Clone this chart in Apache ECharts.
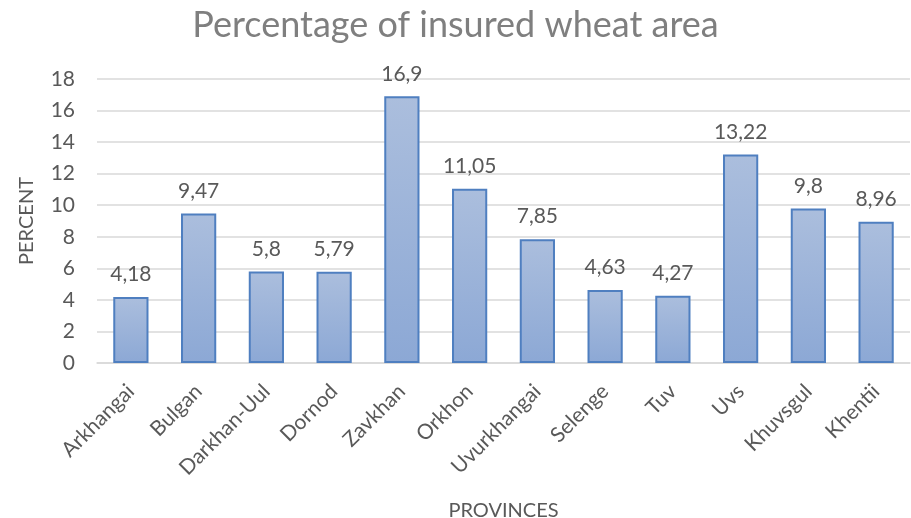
<!DOCTYPE html>
<html>
<head>
<meta charset="utf-8">
<script src="https://cdn.jsdelivr.net/npm/echarts@6/dist/echarts.min.js"></script>
<style>
  html, body { margin: 0; padding: 0; background: #ffffff; }
  #chart { width: 911px; height: 518px; }
</style>
</head>
<body>
<div id="chart"></div>
<script>
// Provinces and share of wheat area that is insured (%)
const provinces = ['Arkhangai', 'Bulgan', 'Darkhan-Uul', 'Dornod', 'Zavkhan', 'Orkhon',
  'Uvurkhangai', 'Selenge', 'Tuv', 'Uvs', 'Khuvsgul', 'Khentii'];
const insuredShare = [4.18, 9.47, 5.8, 5.79, 16.9, 11.05, 7.85, 4.63, 4.27, 13.22, 9.8, 8.96];
const yTicks = [0, 2, 4, 6, 8, 10, 12, 14, 16, 18];

const FONT = 'Lato, Calibri, "Open Sans", sans-serif';
const TEXT = '#595959';

const chart = echarts.init(document.getElementById('chart'), null, { renderer: 'canvas' });

chart.setOption({
  backgroundColor: '#ffffff',
  animation: false,
  title: {
    text: 'Percentage of insured wheat area',
    left: 'center',
    top: 2,
    textStyle: { fontFamily: FONT, fontSize: 36, fontWeight: 'normal', color: '#7f7f7f' }
  },
  grid: { left: 97, right: 1, top: 79, bottom: 155, containLabel: false, outerBoundsMode: 'none' },
  xAxis: {
    type: 'category',
    data: provinces,
    name: 'PROVINCES',
    nameLocation: 'middle',
    nameGap: 138,
    nameTextStyle: { fontFamily: FONT, fontSize: 20, color: TEXT },
    axisLine: { lineStyle: { color: '#d9d9d9', width: 1.5 } },
    axisTick: { show: false },
    axisLabel: { rotate: 45, margin: 25, fontFamily: FONT, fontSize: 21, color: TEXT, interval: 0 }
  },
  yAxis: {
    type: 'value',
    min: yTicks[0],
    max: yTicks[yTicks.length - 1],
    interval: 2,
    name: 'PERCENT',
    nameLocation: 'middle',
    nameGap: 60,
    nameTextStyle: { fontFamily: FONT, fontSize: 20, color: TEXT },
    axisLine: { show: false },
    axisTick: { show: false },
    axisLabel: { margin: 22, fontFamily: FONT, fontSize: 21, color: TEXT },
    splitLine: { lineStyle: { color: '#d9d9d9', width: 1.5 } }
  },
  series: [{
    type: 'bar',
    data: insuredShare,
    barWidth: '52%',
    itemStyle: {
      color: new echarts.graphic.LinearGradient(0, 0, 0, 1, [
        { offset: 0, color: '#abbedd' },
        { offset: 1, color: '#8ca8d5' }
      ]),
      borderColor: '#4f7fc0',
      borderWidth: 2
    },
    label: {
      show: true,
      position: 'top',
      distance: 12,
      fontFamily: FONT,
      fontSize: 21,
      color: TEXT,
      formatter: p => String(p.value).replace('.', ',')
    }
  }]
});
</script>
</body>
</html>
